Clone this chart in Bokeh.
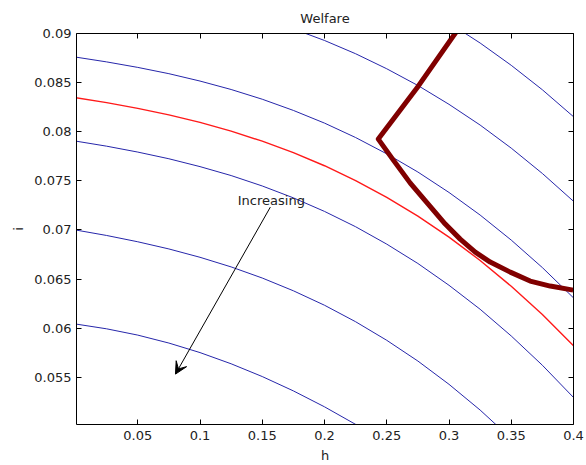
from bokeh.plotting import figure
from bokeh.models import Range1d, FixedTicker, LinearAxis, Label, Arrow, VeeHead
from bokeh.embed import file_html
from bokeh.resources import INLINE

# ---- data ----
x_ticks = [0.05, 0.1, 0.15, 0.2, 0.25, 0.3, 0.35, 0.4]
x_tick_labels = ["0.05", "0.1", "0.15", "0.2", "0.25", "0.3", "0.35", "0.4"]
y_ticks = [0.055, 0.06, 0.065, 0.07, 0.075, 0.08, 0.085, 0.09]
y_tick_labels = ["0.055", "0.06", "0.065", "0.07", "0.075", "0.08", "0.085", "0.09"]

h_full = [0.0, 0.025, 0.05, 0.075, 0.1, 0.125, 0.15, 0.175, 0.2,
          0.225, 0.25, 0.275, 0.3, 0.325, 0.35, 0.375, 0.4]

# welfare contours (blue)
top_h = [0.275, 0.3, 0.325, 0.35, 0.375, 0.4]
top_i = [0.09293, 0.09108, 0.08903, 0.08676, 0.08427, 0.08153]

c0_h = [0.15, 0.175, 0.2, 0.225, 0.25, 0.275, 0.3, 0.325, 0.35, 0.375, 0.4]
c0_i = [0.09152, 0.09047, 0.08929, 0.08794, 0.08641, 0.08471, 0.08279, 0.08068,
        0.07833, 0.07575, 0.07292]

c1_i = [0.08760, 0.08711, 0.08655, 0.08591, 0.08516, 0.08430, 0.08331, 0.08217, 0.08088,
        0.07941, 0.07775, 0.07590, 0.07382, 0.07152, 0.06897, 0.06617, 0.06309]

c3_i = [0.07905, 0.07853, 0.07793, 0.07725, 0.07645, 0.07554, 0.07448, 0.07327, 0.07189,
        0.07033, 0.06856, 0.06659, 0.06437, 0.06193, 0.05921, 0.05623, 0.05295]

c4_h = [0.0, 0.025, 0.05, 0.075, 0.1, 0.125, 0.15, 0.175, 0.2, 0.225, 0.25, 0.275,
        0.3, 0.325, 0.35]
c4_i = [0.07000, 0.06944, 0.06880, 0.06807, 0.06722, 0.06624, 0.06511, 0.06381, 0.06234,
        0.06066, 0.05877, 0.05666, 0.05429, 0.05167, 0.04876]

c5_h = [0.0, 0.025, 0.05, 0.075, 0.1, 0.125, 0.15, 0.175, 0.2, 0.225, 0.25]
c5_i = [0.06043, 0.05994, 0.05930, 0.05849, 0.05752, 0.05638, 0.05508, 0.05362, 0.05200,
        0.05021, 0.04826]

# optimal welfare contour (red)
red_i = [0.08346, 0.08296, 0.08238, 0.08172, 0.08095, 0.08006, 0.07904, 0.07787, 0.07654,
         0.07502, 0.07331, 0.07141, 0.06927, 0.06690, 0.06427, 0.06139, 0.05822]

# frontier (dark red)
front_h = [0.3082, 0.2753, 0.2432, 0.2553, 0.2689, 0.2826, 0.2970, 0.3090, 0.3211,
           0.3331, 0.3492, 0.3652, 0.3813, 0.3997]
front_i = [0.0906, 0.08464, 0.07925, 0.07711, 0.07477, 0.07273, 0.07060, 0.06907, 0.06775,
           0.06673, 0.06571, 0.06480, 0.06429, 0.06388]

FONT = "DejaVu Sans"
FS = "13px"
BLUE = "#2626aa"

p = figure(width=586, height=465,
           x_range=Range1d(0.0008, 0.4), y_range=Range1d(0.0502, 0.09),
           output_backend="svg", toolbar_location=None,
           min_border_left=76, min_border_right=13, min_border_top=33, min_border_bottom=41,
           title="Welfare")
p.title.align = "center"
p.title.text_font = FONT
p.title.text_font_size = FS
p.title.text_font_style = "normal"
p.title.text_color = "#222222"
p.title.standoff = 16
p.grid.visible = False
p.outline_line_color = None
p.background_fill_color = "white"
p.border_fill_color = "white"

for ax in (p.xaxis[0], p.yaxis[0]):
    ax.major_tick_in = 5
    ax.major_tick_out = 0
    ax.minor_tick_line_color = None
    ax.axis_line_color = "black"
    ax.major_tick_line_color = "black"
    ax.major_label_text_font = FONT
    ax.major_label_text_font_size = FS
    ax.major_label_text_color = "#222222"
    ax.axis_label_text_font = FONT
    ax.axis_label_text_font_size = FS
    ax.axis_label_text_font_style = "normal"
    ax.axis_label_text_color = "#222222"

p.xaxis.ticker = FixedTicker(ticks=x_ticks)
p.xaxis.major_label_overrides = dict(zip(x_ticks, x_tick_labels))
p.xaxis.axis_label = "h"
p.xaxis.major_label_standoff = 6
p.xaxis.axis_label_standoff = 5

p.yaxis.ticker = FixedTicker(ticks=y_ticks)
p.yaxis.major_label_overrides = dict(zip(y_ticks, y_tick_labels))
p.yaxis.axis_label = "i"
p.yaxis.major_label_standoff = 5
p.yaxis.axis_label_standoff = 5

top_ax = LinearAxis(ticker=FixedTicker(ticks=x_ticks), major_tick_in=5, major_tick_out=0,
                    minor_tick_line_color=None,
                    major_label_overrides={t: "" for t in x_ticks},
                    major_label_standoff=0)
right_ax = LinearAxis(ticker=FixedTicker(ticks=y_ticks), major_tick_in=5, major_tick_out=0,
                      minor_tick_line_color=None,
                      major_label_overrides={t: "" for t in y_ticks},
                      major_label_standoff=0)
p.add_layout(top_ax, "above")
p.add_layout(right_ax, "right")

for hh, ii in ((top_h, top_i), (c0_h, c0_i), (h_full, c1_i), (h_full, c3_i),
               (c4_h, c4_i), (c5_h, c5_i)):
    p.line(hh, ii, line_color=BLUE, line_width=1)

p.line(h_full, red_i, line_color="#ff1a1a", line_width=1.4)
p.line(front_h, front_i, line_color="#800000", line_width=5, line_join="round")

p.add_layout(Arrow(end=VeeHead(size=12, fill_color="black", line_color="black", line_width=1),
                   x_start=0.1565, y_start=0.07233, x_end=0.0803, y_end=0.05533,
                   line_color="black", line_width=1))
p.add_layout(Label(x=0.1573, y=0.07303, text="Increasing", text_align="center",
                   text_baseline="alphabetic", text_font=FONT, text_font_size=FS,
                   text_color="#222222"))

open("out.html", "w").write(file_html(p, INLINE))
